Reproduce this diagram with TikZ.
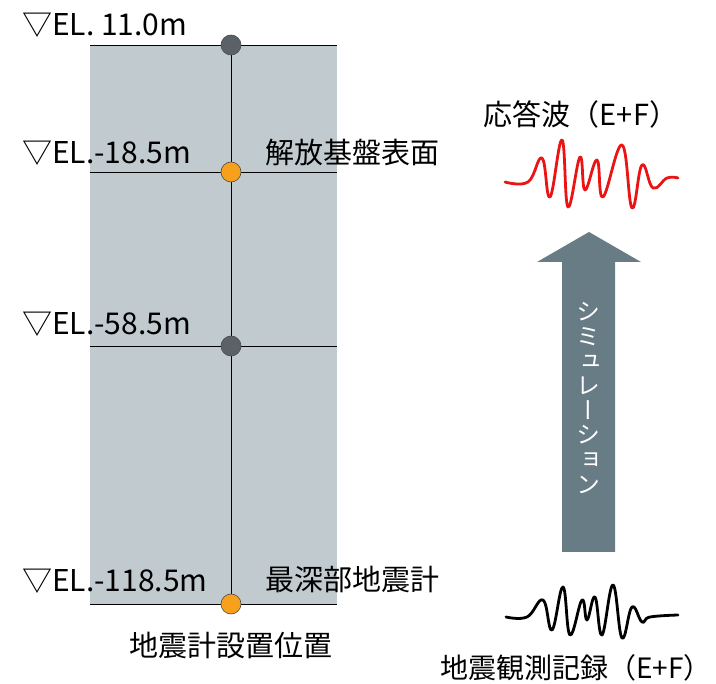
\documentclass[tikz,border=0pt]{standalone}
\usepackage{fontspec}
\setmainfont{Noto Sans CJK JP}
\newfontfamily\jp{Noto Sans CJK JP}
\newfontfamily\vjp[RawFeature=+vert]{Noto Sans CJK JP}
\definecolor{soil}{RGB}{193,203,207}
\definecolor{darkpt}{RGB}{90,98,103}
\definecolor{orangept}{RGB}{246,160,28}
\definecolor{arrowc}{RGB}{103,124,132}
\definecolor{wavered}{RGB}{235,20,20}
\tikzset{
  pt/.style={circle, minimum size=20pt, inner sep=0pt, draw=black!70, line width=0.6pt},
  darkdot/.style={pt, fill=darkpt},
  orangedot/.style={pt, fill=orangept},
  level/.style={line width=0.8pt, black},
  ellabel/.style={anchor=base west, inner sep=0pt, font=\jp\fontsize{30}{32}\selectfont},
  jplabel/.style={inner sep=0pt, font=\jp\fontsize{29}{32}\selectfont},
  wave/.style={line width=2.8pt, line join=round, line cap=round}
}
\begin{document}
\begin{tikzpicture}[x=1pt,y=-1pt]
\useasboundingbox (0,0) rectangle (716,684);
% soil column
\fill[soil] (90,45) rectangle (337,604);
\coordinate (l1) at (90,45);   \coordinate (r1) at (337,45);
\coordinate (l2) at (90,172);  \coordinate (r2) at (337,172);
\coordinate (l3) at (90,346);  \coordinate (r3) at (337,346);
\coordinate (l4) at (90,604);  \coordinate (r4) at (337,604);
\draw[level] (l1) -- (r1);
\draw[level] (l2) -- (r2);
\draw[level] (l3) -- (r3);
\draw[level] (l4) -- (r4);
\coordinate (c1) at (231,45);
\coordinate (c4) at (231,604);
\draw[level] (c1) -- (c4);
\node[darkdot] (p1) at (231,45) {};
\node[orangedot] (p2) at (231,172) {};
\node[darkdot] (p3) at (231,346) {};
\node[orangedot] (p4) at (231,604) {};
% elevation labels
\node[ellabel] (e1) at (22,36) {▽EL. 11.0m};
\node[ellabel] (e2) at (22,164) {▽EL.-18.5m};
\node[ellabel] (e3) at (22,335) {▽EL.-58.5m};
\node[ellabel] (e4) at (22,592) {▽EL.-118.5m};
% side labels
\node[jplabel, anchor=base west] (t1) at (265,164) {解放基盤表面};
\node[jplabel, anchor=base west] (t2) at (265,591) {最深部地震計};
\node[jplabel, anchor=base] (t3) at (231,657) {地震計設置位置};
\node[jplabel, anchor=base] (t4) at (581,126) {応答波（E+F）};
\node[jplabel, anchor=base east, font=\jp\fontsize{28}{32}\selectfont] (t5) at (712,679) {地震観測記録（E+F）};
% simulation arrow
\fill[arrowc] (562,552) -- (562,262) -- (537,262) -- (589,232) -- (641,262) -- (615,262) -- (615,552) -- cycle;
\node[text=white, inner sep=0pt, align=center, font=\vjp\fontsize{24}{24.6}\selectfont] (sim) at (588,398) {シ\\ミ\\ュ\\レ\\ー\\シ\\ョ\\ン};
% response wave (red)
\draw[wave, wavered] plot[smooth, tension=0.7] coordinates {(505,182) (528,182) (542,158) (550,197) (562,140) (568,207) (580,157) (585,190) (597,160) (603,197) (622,145) (632,208) (642,165) (653,188) (667,178) (678,178)};
% observed wave (black)
\draw[wave, black] plot[smooth, tension=0.7] coordinates {(506,617) (527,617) (543,600) (552,630) (563,587) (570,635) (582,600) (587,620) (595,597) (602,635) (613,585) (622,638) (632,607) (642,622) (650,617) (678,615)};
\end{tikzpicture}
\end{document}
